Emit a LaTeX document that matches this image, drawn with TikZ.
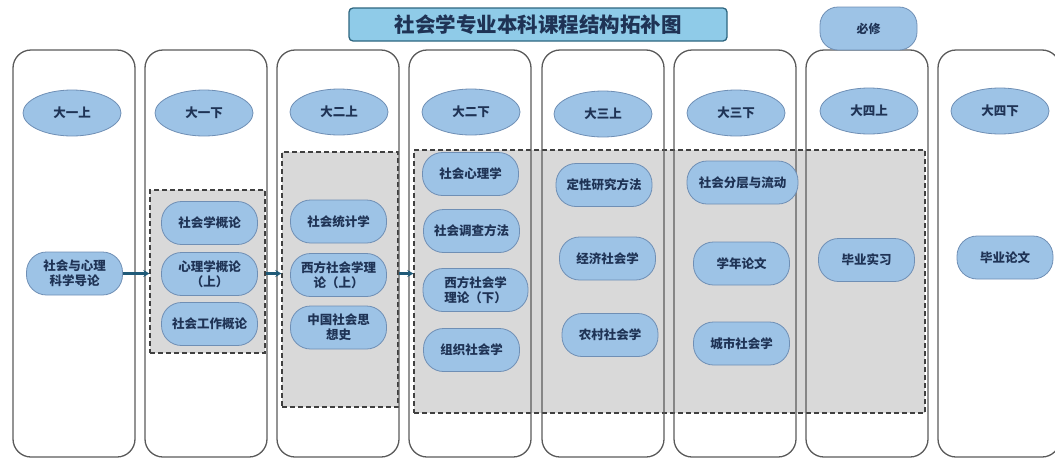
\documentclass[tikz,border=0pt]{standalone}
\usepackage{fontspec}
\newfontfamily\cjk{Noto Sans CJK SC}
\usetikzlibrary{arrows.meta,shapes.geometric}
\definecolor{nodefill}{HTML}{9DC3E6}
\definecolor{nodeline}{HTML}{6F8FB5}
\definecolor{txt}{HTML}{1F3355}
\definecolor{regfill}{HTML}{D9D9D9}
\definecolor{regline}{HTML}{404040}
\definecolor{colline}{HTML}{5A5A5A}
\definecolor{titlefill}{HTML}{8FCBE8}
\definecolor{titleline}{HTML}{2E6680}
\definecolor{arrcol}{HTML}{1F5A78}
\tikzset{
  x=1pt,y=-1pt,
  colbox/.style={draw=colline,line width=1.3pt,rounded corners=18pt},
  region/.style={draw=regline,fill=regfill,dashed,line width=1.3pt,dash pattern=on 5pt off 3pt,inner sep=0pt},
  sem/.style={ellipse,draw=nodeline,fill=nodefill,line width=0.8pt,minimum width=98pt,minimum height=46pt,inner sep=0pt,font=\cjk\bfseries\fontsize{12.5}{14}\selectfont,text=txt},
  course/.style={draw=nodeline,fill=nodefill,line width=0.8pt,rounded corners=20pt,minimum width=96pt,minimum height=43pt,inner sep=0pt,align=center,font=\cjk\bfseries\fontsize{12.5}{15}\selectfont,text=txt},
  arr/.style={draw=arrcol,line width=2.4pt,-{Stealth[length=6pt,width=7pt]}},
}
\begin{document}
\begin{tikzpicture}
\useasboundingbox (0,0) rectangle (1055,461);
% regions
\node[region,minimum width=115pt,minimum height=163pt] (rA) at (207.5,271.5) {};
\node[region,minimum width=116pt,minimum height=255pt] (rB) at (340,279.5) {};
\node[region,minimum width=511pt,minimum height=263pt] (rC) at (669.5,281.5) {};
% columns
\foreach \xl in {13,145,277,409,542,674,806,938}{
  \draw[colbox] (\xl,50) rectangle ++(122,407);
}
% title
\node[draw=titleline,fill=titlefill,line width=1.3pt,rounded corners=4pt,minimum width=378pt,minimum height=33pt,inner sep=0pt,font=\cjk\bfseries\fontsize{20.5}{22}\selectfont,text=txt] (title) at (538,24.5) {社会学专业本科课程结构拓补图};
\node[draw=nodeline,fill=nodefill,line width=0.8pt,rounded corners=18pt,minimum width=97pt,minimum height=43pt,inner sep=0pt,font=\cjk\bfseries\fontsize{12}{14}\selectfont,text=txt] (bx) at (868.5,28.5) {必修};
% semester ellipses
\node[sem] (s1) at (72,113) {大一上};
\node[sem] (s2) at (204,113) {大一下};
\node[sem] (s3) at (339,112) {大二上};
\node[sem] (s4) at (471,112) {大二下};
\node[sem] (s5) at (603,114) {大三上};
\node[sem] (s6) at (736,113) {大三下};
\node[sem] (s7) at (869,111) {大四上};
\node[sem] (s8) at (1000,111) {大四下};
% courses
\node[course] (c11) at (74.5,273.5) {社会与心理\\科学导论};
\node[course] (c21) at (209.5,223) {社会学概论};
\node[course] (c22) at (209.5,274) {心理学概论\\（上）};
\node[course] (c23) at (209.5,324) {社会工作概论};
\node[course] (c31) at (338.5,221.5) {社会统计学};
\node[course] (c32) at (338.5,275) {西方社会学理\\论（上）};
\node[course] (c33) at (338.5,327.5) {中国社会思\\想史};
\node[course] (c41) at (470.5,174) {社会心理学};
\node[course] (c42) at (471.5,231) {社会调查方法};
\node[course,minimum width=105pt] (c43) at (475.5,290) {西方社会学\\理论（下）};
\node[course] (c44) at (471.5,350) {组织社会学};
\node[course] (c51) at (604,185) {定性研究方法};
\node[course] (c52) at (607.5,258.5) {经济社会学};
\node[course] (c53) at (610,335) {农村社会学};
\node[course,minimum width=111pt] (c61) at (742.5,182.5) {社会分层与流动};
\node[course] (c62) at (741.5,263.5) {学年论文};
\node[course] (c63) at (741.5,343.5) {城市社会学};
\node[course] (c71) at (866.5,260) {毕业实习};
\node[course] (c81) at (1005,257.5) {毕业论文};
% arrows
\draw[arr] (c11.east) -- (c11.east -| rA.west);
\draw[arr] (rA.east |- c11.east) -- (c11.east -| rB.west);
\draw[arr] (rB.east |- c11.east) -- (c11.east -| rC.west);
\end{tikzpicture}
\end{document}
